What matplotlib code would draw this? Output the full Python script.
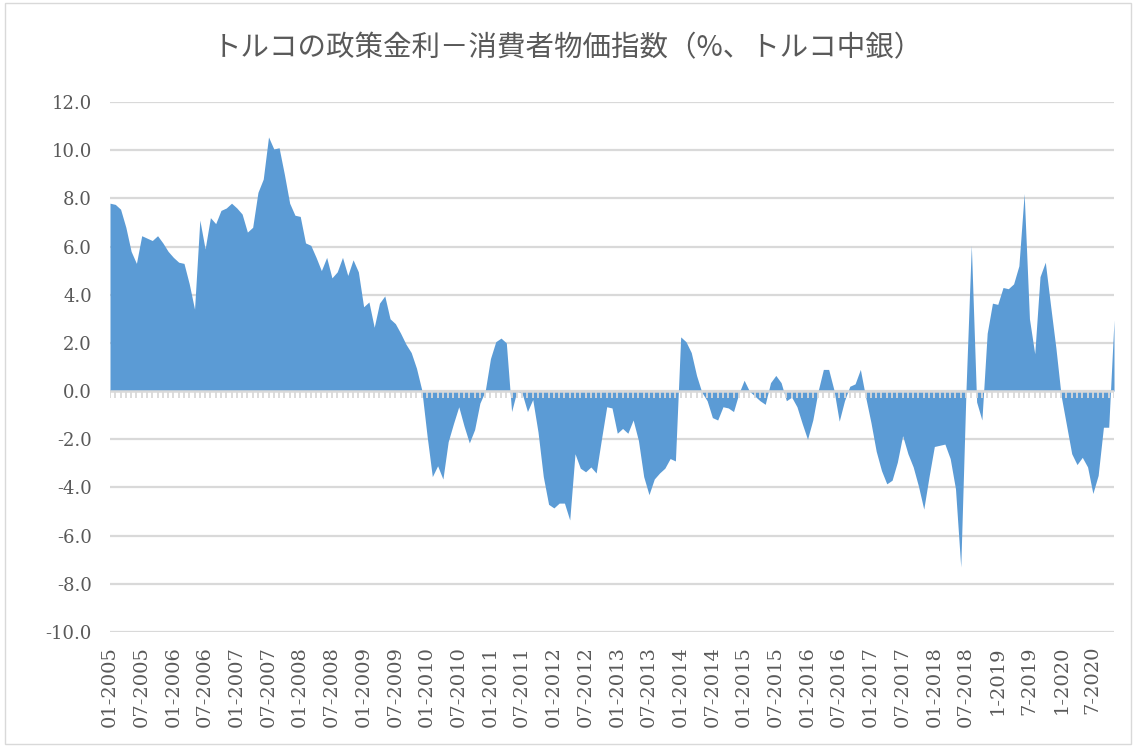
import numpy as np
import matplotlib
matplotlib.use("Agg")
import matplotlib.pyplot as plt
from matplotlib.patches import Rectangle

values = [
    7.8, 7.75, 7.55, 6.8, 5.8, 5.3, 6.45, 6.35, 6.25, 6.45, 6.15, 5.8,            # 2005
    5.55, 5.35, 5.3, 4.45, 3.4, 7.1, 5.9, 7.2, 6.95, 7.5, 7.6, 7.8,              # 2006
    7.6, 7.35, 6.6, 6.8, 8.25, 8.8, 10.55, 10.05, 10.1, 9.0, 7.8, 7.3,           # 2007
    7.25, 6.15, 6.05, 5.55, 5.0, 5.55, 4.7, 4.95, 5.55, 4.8, 5.45, 4.95,         # 2008
    3.5, 3.7, 2.65, 3.65, 3.95, 3.0, 2.8, 2.4, 1.95, 1.6, 0.95, 0.05,            # 2009
    -1.85, -3.55, -3.1, -3.65, -2.1, -1.35, -0.65, -1.45, -2.15, -1.6, -0.5, 0.0, # 2010
    1.35, 2.05, 2.2, 2.0, -0.85, 0.0, -0.1, -0.85, -0.35, -1.7, -3.55, -4.7,     # 2011
    -4.85, -4.65, -4.65, -5.35, -2.6, -3.2, -3.35, -3.15, -3.4, -2.0, -0.65, -0.7, # 2012
    -1.75, -1.55, -1.75, -1.2, -2.05, -3.55, -4.3, -3.65, -3.4, -3.2, -2.8, -2.9,  # 2013
    2.25, 2.05, 1.6, 0.65, -0.05, -0.4, -1.1, -1.2, -0.65, -0.7, -0.85, -0.1,    # 2014
    0.45, 0.0, -0.2, -0.4, -0.55, 0.35, 0.65, 0.35, -0.4, -0.25, -0.65, -1.35,   # 2015
    -2.0, -1.2, 0.0, 0.9, 0.9, 0.05, -1.25, -0.4, 0.2, 0.3, 0.9, -0.25,          # 2016
    -1.3, -2.5, -3.3, -3.85, -3.7, -2.95, -1.85, -2.6, -3.15, -3.95, -4.9, -3.55, # 2017
    -2.3, -2.25, -2.2, -2.8, -4.05, -7.3, 0.1, 6.05, -0.45, -1.2, 2.4, 3.65,     # 2018
    3.6, 4.3, 4.25, 4.45, 5.2, 8.2, 3.0, 1.55, 4.75, 5.35, 3.55, 1.8,            # 2019
    -0.2, -1.4, -2.6, -3.05, -2.75, -3.15, -4.25, -3.5, -1.5, -1.5, 2.95,        # 2020
]

tick_labels = ['01-2005', '07-2005', '01-2006', '07-2006', '01-2007', '07-2007',
               '01-2008', '07-2008', '01-2009', '07-2009', '01-2010', '07-2010',
               '01-2011', '07-2011', '01-2012', '07-2012', '01-2013', '07-2013',
               '01-2014', '07-2014', '01-2015', '07-2015', '01-2016', '07-2016',
               '01-2017', '07-2017', '01-2018', '07-2018', '1-2019', '7-2019',
               '1-2020', '7-2020']
y_ticks = [-10, -8, -6, -4, -2, 0, 2, 4, 6, 8, 10, 12]

title = 'トルコの政策金利－消費者物価指数（%、トルコ中銀）'

blue = '#5B9BD5'
grid_c = '#D9D9D9'
txt_c = '#595959'

x = np.arange(len(values))
v = np.array(values)

fig = plt.figure(figsize=(11.36, 7.47), dpi=100)
ax = fig.add_axes([110/1136, 115/747, 1004/1136, 530/747])

ax.fill_between(x, 0, v, color=blue, linewidth=0, zorder=2)

for yy in y_ticks:
    ax.axhline(yy, color=grid_c, lw=1.6, zorder=1)
ax.axhline(0, color=grid_c, lw=1.8, zorder=3)
# monthly category ticks below the zero line
ax.vlines(x, -0.3, 0, color=grid_c, lw=1.3, zorder=3)

ax.set_xlim(0, len(values) - 1)
ax.set_ylim(-10, 12)
ax.set_yticks(y_ticks)
ax.set_yticklabels(['%.1f' % t for t in y_ticks], family='DejaVu Serif',
                   fontsize=13, color=txt_c)
ax.set_xticks(x[::6])
ax.set_xticklabels(tick_labels, rotation=90, family='DejaVu Serif',
                   fontsize=14, color=txt_c)
ax.tick_params(axis='y', length=0, pad=13)
ax.tick_params(axis='x', length=0, pad=10)
for s in ax.spines.values():
    s.set_visible(False)

fig.text(0.5, 1 - 48/747, title, ha='center', va='center', fontsize=20.5,
         color=txt_c, family=['Noto Sans CJK JP', 'DejaVu Sans'])

fig.patches.append(Rectangle((0.004, 0.004), 0.992, 0.992, transform=fig.transFigure,
                             fill=False, edgecolor=grid_c, lw=1.0))

fig.savefig('out.png', dpi=100)
